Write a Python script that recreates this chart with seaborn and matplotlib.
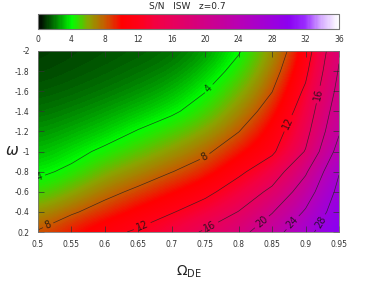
import numpy as np
import matplotlib
matplotlib.use("Agg")
import matplotlib.pyplot as plt
import seaborn as sns

# S/N of the ISW signal at z=0.7
omega_de = [0.5, 0.55, 0.6, 0.65, 0.7, 0.75, 0.8, 0.85, 0.9, 0.95]
w_values = [-2.0, -1.8, -1.6, -1.4, -1.2, -1.0, -0.8, -0.6, -0.4, -0.2]
sn_w_m20 = [1.0, 1.2, 1.35, 1.55, 1.8, 2.45, 3.85, 6.2, 10.2, 19.5]
sn_w_m18 = [1.2, 1.4, 1.6, 1.9, 2.25, 3.1, 4.6, 6.9, 11.3, 20.3]
sn_w_m16 = [1.5, 1.7, 2.0, 2.4, 2.9, 3.95, 5.5, 7.95, 12.5, 21.2]
sn_w_m14 = [1.9, 2.2, 2.6, 3.1, 3.75, 4.75, 6.6, 9.1, 13.6, 22.4]
sn_w_m12 = [2.4, 2.8, 3.3, 4.1, 4.9, 6.0, 7.95, 10.4, 14.8, 23.6]
sn_w_m10 = [3.0, 3.55, 4.3, 5.2, 6.3, 7.6, 9.5, 11.5, 16.2, 25.5]
sn_w_m08 = [3.7, 4.3, 5.7, 6.7, 7.95, 9.1, 11.4, 14.0, 19.5, 27.8]
sn_w_m06 = [4.7, 5.8, 7.3, 8.5, 9.8, 11.2, 13.6, 16.8, 22.0, 29.0]
sn_w_m04 = [6.3, 7.7, 9.0, 10.4, 11.8, 13.6, 16.1, 19.8, 24.4, 30.1]
sn_w_m02 = [8.2, 9.8, 11.2, 12.4, 14.3, 16.4, 18.8, 22.4, 26.9, 31.0]

contour_levels = [4, 8, 12, 16, 20, 24, 28]
# where the contour numbers sit (omega_de, w)
label_spots = [(0.503, -0.74), (0.755, -1.63), (0.517, -0.24), (0.75, -0.94),
               (0.657, -0.24), (0.871, -1.29), (0.757, -0.26), (0.917, -1.57),
               (0.836, -0.29), (0.881, -0.29), (0.917, -0.32)]
cbar_ticks = [0, 4, 8, 12, 16, 20, 24, 28, 32, 36]
y_ticks = [-2, -1.8, -1.6, -1.4, -1.2, -1, -0.8, -0.6, -0.4, -0.2]
y_ticklabels = ["-2", "-1.8", "-1.6", "-1.4", "-1.2", "-1", "-0.8", "-0.6", "-0.4", "0.2"]
x_ticks = [0.5, 0.55, 0.6, 0.65, 0.7, 0.75, 0.8, 0.85, 0.9, 0.95]

sn = np.array([sn_w_m20, sn_w_m18, sn_w_m16, sn_w_m14, sn_w_m12,
               sn_w_m10, sn_w_m08, sn_w_m06, sn_w_m04, sn_w_m02])

sns.set_style("ticks")
plt.rcParams['font.family'] = ['DejaVu Sans']

# colour table sampled every 2 units from 0 to 36
cmap = sns.blend_palette(["#000000", "#007a00", "#00ff00", "#8aa400", "#c85a00",
                          "#ff0000", "#ff0018", "#f40040", "#e8005a", "#dc0070",
                          "#d00088", "#c4009c", "#b800b4", "#aa00c8", "#9c00dc",
                          "#8c00f0", "#9a2cff", "#d8b0ff", "#ffffff"], as_cmap=True)

fig = plt.figure(figsize=(3.77, 2.84), dpi=100)
ax = fig.add_axes([38/377, 1-232/284, 301/377, 181/284])
cax = fig.add_axes([38/377, 1-29/284, 301/377, 15/284])

dx = 0.05 / 2
dy = 0.2 / 2
im = ax.imshow(sn, cmap=cmap, vmin=0, vmax=36, origin='upper', aspect='auto',
               interpolation='bicubic',
               extent=[omega_de[0]-dx, omega_de[-1]+dx, w_values[-1]+dy, w_values[0]-dy])
cs = ax.contour(omega_de, w_values, sn, levels=contour_levels,
                colors='#222222', linewidths=0.5, alpha=0.8)
ax.clabel(cs, fmt='%d', fontsize=7, inline=True, inline_spacing=2,
          colors='#111111', manual=label_spots)

ax.set_xlim(0.5, 0.95)
ax.set_ylim(-0.2, -2)
ax.set_xticks(x_ticks)
ax.set_xticklabels([f"{v:g}" for v in x_ticks])
ax.set_yticks(y_ticks)
ax.set_yticklabels(y_ticklabels)
ax.tick_params(direction='in', length=4, width=0.5, labelsize=5.5, pad=6,
               top=True, right=True, colors='#333333')
for s in ax.spines.values():
    s.set_color('#777777')
    s.set_linewidth(0.6)

ax.set_xlabel(r'$\Omega_{\rm DE}$', fontsize=10, labelpad=10)
ax.set_ylabel(r'$\omega$', fontsize=11, rotation=0, va='center', ha='center')
ax.yaxis.set_label_coords(-0.085, 0.45)

cb = fig.colorbar(im, cax=cax, orientation='horizontal', ticks=cbar_ticks)
cb.ax.set_xticks(np.arange(0, 37, 2), minor=True)
cb.ax.tick_params(which='both', direction='in', top=True, bottom=True,
                  length=3, width=0.5, labelsize=5.5, pad=4, colors='#333333')
cb.outline.set_edgecolor('#777777')
cb.outline.set_linewidth(0.8)

fig.text(0.497, 1-6/284, "S/N   ISW   z=0.7", ha='center', va='center', fontsize=6.5)

fig.savefig('out.png', dpi=100)
